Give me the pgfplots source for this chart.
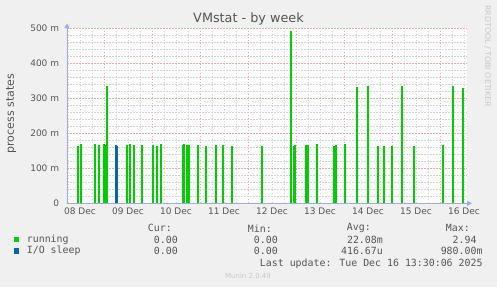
\documentclass[border=0pt]{standalone}
\usepackage{pgfplots}
\pgfplotsset{compat=1.18}
\usepackage{fontspec}
\setmainfont{DejaVu Sans}
\newfontfamily\monofont{DejaVu Sans Mono}
\usetikzlibrary{arrows.meta}
\definecolor{bgc}{HTML}{F0F0F0}
\definecolor{runc}{HTML}{00CC00}
\definecolor{ioc}{HTML}{0066B3}
\definecolor{mgrid}{HTML}{F0A8A8}
\definecolor{mingrid}{HTML}{D4D4D4}
\definecolor{axc}{HTML}{A0AAE8}
\definecolor{txt}{HTML}{555555}
\definecolor{ltxt}{HTML}{C8C8C8}

\pgfplotstableread{
x y
8.450 164
8.513 169
8.819 169
8.902 166
9.000 169
9.021 166
9.054 335
9.471 166
9.533 169
9.617 166
9.783 166
10.013 166
10.096 164
10.179 169
10.638 166
10.658 169
10.721 166
10.763 166
10.950 166
11.117 164
11.325 166
11.471 166
11.658 164
12.283 164
12.888 491
12.950 164
12.971 166
13.200 166
13.250 166
13.429 169
13.783 164
13.840 166
14.013 169
14.263 331
14.506 335
14.700 164
14.825 164
14.992 164
15.200 335
15.450 164
16.054 166
16.263 335
16.471 329
}\running

\pgfplotstableread{
x y
9.256 168
9.277 163
}\iosleep

\begin{document}
\begin{tikzpicture}[x=1bp,y=1bp]
\fill[bgc] (-67,-83.7) rectangle (430,203.3);
\path[use as bounding box] (-67,-83.7) rectangle (430,203.3);
\begin{axis}[
 at={(0,0)}, anchor=south west, scale only axis, width=400bp, height=175bp,
 xmin=8.229, xmax=16.5625, ymin=0, ymax=500,
 axis background/.style={fill=white},
 axis x line*=bottom, axis y line*=left,
 axis line style={draw=axc, line width=0.9bp},
 x axis line style={-{Triangle[length=5bp,width=5bp]}, shorten >=-5bp},
 y axis line style={-{Triangle[length=5bp,width=5bp]}, shorten >=-5bp},
 xtick={9,10,...,16}, xticklabels={},
 minor xtick={8.25,8.5,8.75,9.25,9.5,9.75,10.25,10.5,10.75,11.25,11.5,11.75,12.25,12.5,12.75,13.25,13.5,13.75,14.25,14.5,14.75,15.25,15.5,15.75,16.25,16.5},
 extra x ticks={8.5,9.5,10.5,11.5,12.5,13.5,14.5,15.5,16.5},
 extra x tick labels={08 Dec,09 Dec,10 Dec,11 Dec,12 Dec,13 Dec,14 Dec,15 Dec,16 Dec},
 extra x tick style={grid=none},
 ytick={0,100,200,300,400,500},
 yticklabels={0,100 m,200 m,300 m,400 m,500 m},
 minor ytick={20,40,60,80,120,140,160,180,220,240,260,280,320,340,360,380,420,440,460,480},
 grid=both,
 major grid style={draw=mgrid, dash pattern=on 1.5bp off 1.5bp, line width=0.8bp},
 minor grid style={draw=mingrid, dash pattern=on 1.5bp off 1.5bp, line width=0.8bp},
 major tick length=0, minor tick length=0,
 tick style={draw=none},
 ticklabel style={font=\fontsize{9bp}{10bp}\selectfont, text=txt, inner sep=0pt},
 yticklabel style={anchor=east, xshift=-7.7bp},
 xticklabel style={anchor=center, yshift=-8.4bp},
]
\addplot[ycomb, draw=runc, line width=1.9bp, mark=none] table[x=x,y=y] {\running};
\addplot[ycomb, draw=ioc, line width=1.9bp, mark=none] table[x=x,y=y] {\iosleep};
\end{axis}
\node[font=\fontsize{12.8bp}{14bp}\selectfont, text=txt] at (181.5,184.3) {VMstat - by week};
\node[rotate=-90, font=\fontsize{7.9bp}{9bp}\selectfont, text=ltxt] at (420.7,147.3) {RRDTOOL / TOBI OETIKER};
\node[rotate=90, font=\fontsize{11bp}{12bp}\selectfont, text=txt] at (-55.8,89.5) {process states};
% legend
\begin{scope}[every node/.style={font=\monofont\fontsize{9.9bp}{11bp}\selectfont, text=txt, inner sep=0pt}]
\node[anchor=east] at (105,-25) {Cur:};
\node[anchor=east] at (205,-25) {Min:};
\node[anchor=east] at (304,-25) {Avg:};
\node[anchor=east] at (403,-25) {Max:};
\fill[runc] (-53,-33.8) rectangle (-47.7,-39);
\node[anchor=west] at (-40.3,-36.4) {running};
\node[anchor=east] at (111,-36.4) {0.00};
\node[anchor=east] at (211,-36.4) {0.00};
\node[anchor=east] at (316,-36.4) {22.08m};
\node[anchor=east] at (409.7,-36.4) {2.94};
\fill[ioc] (-53,-45.1) rectangle (-47.7,-50.3);
\node[anchor=west] at (-40.3,-47.7) {I/O sleep};
\node[anchor=east] at (111,-47.7) {0.00};
\node[anchor=east] at (211,-47.7) {0.00};
\node[anchor=east] at (316,-47.7) {416.67u};
\node[anchor=east] at (415.7,-47.7) {980.00m};
\node[anchor=east] at (415.7,-60.4) {Last update: Tue Dec 16 13:30:06 2025};
\end{scope}
\node[font=\fontsize{7bp}{8bp}\selectfont, text=ltxt] at (181,-72.7) {Munin 2.0.49};
\end{tikzpicture}
\end{document}
